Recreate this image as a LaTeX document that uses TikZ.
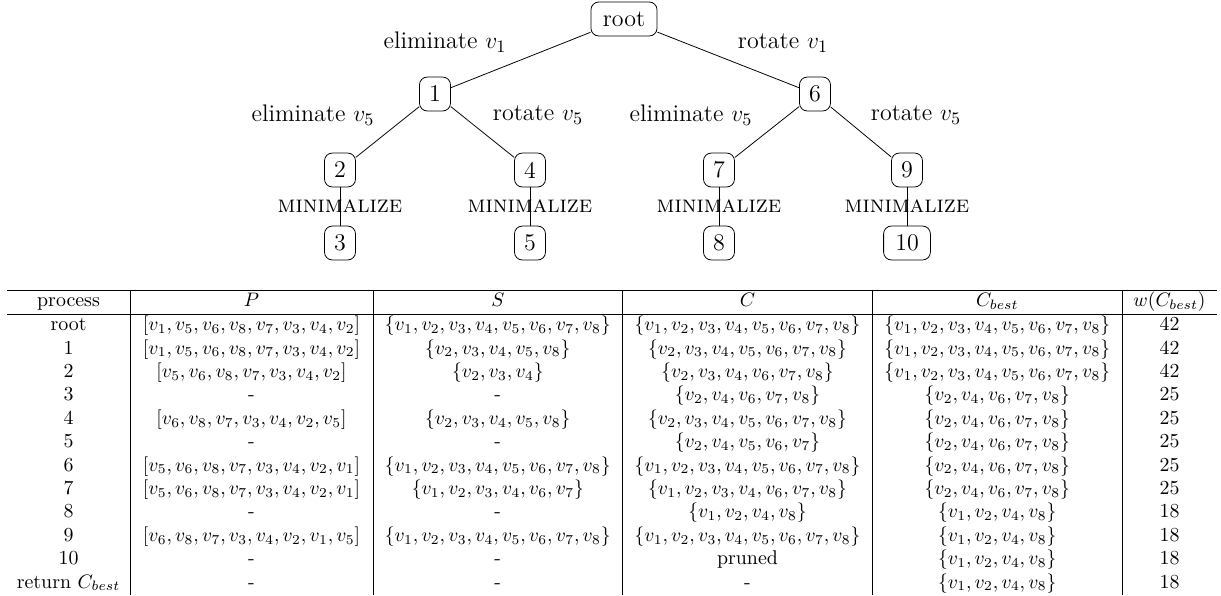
\documentclass[tikz,border=0pt]{standalone}
\tikzset{
  tnode/.style={draw, line width=0.4pt, rounded corners=4pt, font=\fontsize{12.3}{14}\selectfont, minimum height=17.4pt, minimum width=15.9pt, inner sep=2pt},
  lbl/.style={font=\fontsize{12.3}{14}\selectfont, inner sep=0pt},
  mini/.style={font=\fontsize{12.3}{14}\selectfont\scshape, inner sep=0pt},
  cell/.style={anchor=base, inner sep=0pt, font=\fontsize{10.2}{12}\selectfont},
  conn/.style={line width=0.4pt},
  trule/.style={line width=0.4pt}
}
\newcommand\tabrow[8]{%
  \node[cell] (r#1a) at (68.5,#2) {#3};
  \node[cell] (r#1b) at (251.5,#2) {#4};
  \node[cell] (r#1c) at (497.8,#2) {#5};
  \node[cell] (r#1d) at (747.5,#2) {#6};
  \node[cell] (r#1e) at (997.2,#2) {#7};
  \node[cell] (r#1f) at (1169.5,#2) {#8};
}
\newcommand\allv{$\{v_1, v_2, v_3, v_4, v_5, v_6, v_7, v_8\}$}
\begin{document}
\begin{tikzpicture}[x=0.5128pt, y=-0.5128pt]
\useasboundingbox (0,0) rectangle (1221,595);
% tree nodes
\node[tnode, minimum width=33.9pt] (root) at (624,19) {root};
\node[tnode] (n1) at (435,94) {1};
\node[tnode] (n6) at (815,94) {6};
\node[tnode] (n2) at (340,170) {2};
\node[tnode] (n4) at (530,170) {4};
\node[tnode] (n7) at (719,170) {7};
\node[tnode] (n9) at (907,170) {9};
\node[tnode] (n3) at (340,243) {3};
\node[tnode] (n5) at (530,243) {5};
\node[tnode] (n8) at (719,243) {8};
\node[tnode, minimum width=24pt] (n10) at (907,243) {10};
% connectors
\draw[conn] (root) -- (n1);
\draw[conn] (root) -- (n6);
\draw[conn] (n1) -- (n2);
\draw[conn] (n1) -- (n4);
\draw[conn] (n6) -- (n7);
\draw[conn] (n6) -- (n9);
\draw[conn] (n2) -- node[mini] (m3) {minimalize} (n3);
\draw[conn] (n4) -- node[mini] (m5) {minimalize} (n5);
\draw[conn] (n7) -- node[mini] (m8) {minimalize} (n8);
\draw[conn] (n9) -- node[mini] (m10) {minimalize} (n10);
% edge labels
\node[lbl] (l1) at (445,42) {eliminate $v_1$};
\node[lbl] (l6) at (783,43) {rotate $v_1$};
\node[lbl] (l2) at (313,115) {eliminate $v_5$};
\node[lbl] (l4) at (538,115) {rotate $v_5$};
\node[lbl] (l7) at (691,115) {eliminate $v_5$};
\node[lbl] (l9) at (916,115) {rotate $v_5$};
% table rules
\draw[trule] (7,290.4) -- (1217,290.4);
\draw[trule] (7,314.2) -- (1217,314.2);
\foreach \xx in {130,373,622.7,872.3,1122} {
  \draw[trule] (\xx,290.4) -- (\xx,595);
}
% header
\tabrow{h}{306.8}{process}{$P$}{$S$}{$C$}{$C_{best}$}{$w(C_{best})$}
% body
\tabrow{0}{330.6}{root}{$[v_1, v_5, v_6, v_8, v_7, v_3, v_4, v_2]$}{\allv}{\allv}{\allv}{42}
\tabrow{1}{354.0}{1}{$[v_1, v_5, v_6, v_8, v_7, v_3, v_4, v_2]$}{$\{v_2, v_3, v_4, v_5, v_8\}$}{$\{v_2, v_3, v_4, v_5, v_6, v_7, v_8\}$}{\allv}{42}
\tabrow{2}{377.4}{2}{$[v_5, v_6, v_8, v_7, v_3, v_4, v_2]$}{$\{v_2, v_3, v_4\}$}{$\{v_2, v_3, v_4, v_6, v_7, v_8\}$}{\allv}{42}
\tabrow{3}{400.8}{3}{-}{-}{$\{v_2, v_4, v_6, v_7, v_8\}$}{$\{v_2, v_4, v_6, v_7, v_8\}$}{25}
\tabrow{4}{424.2}{4}{$[v_6, v_8, v_7, v_3, v_4, v_2, v_5]$}{$\{v_2, v_3, v_4, v_5, v_8\}$}{$\{v_2, v_3, v_4, v_5, v_6, v_7, v_8\}$}{$\{v_2, v_4, v_6, v_7, v_8\}$}{25}
\tabrow{5}{447.6}{5}{-}{-}{$\{v_2, v_4, v_5, v_6, v_7\}$}{$\{v_2, v_4, v_6, v_7, v_8\}$}{25}
\tabrow{6}{471.0}{6}{$[v_5, v_6, v_8, v_7, v_3, v_4, v_2, v_1]$}{\allv}{\allv}{$\{v_2, v_4, v_6, v_7, v_8\}$}{25}
\tabrow{7}{494.4}{7}{$[v_5, v_6, v_8, v_7, v_3, v_4, v_2, v_1]$}{$\{v_1, v_2, v_3, v_4, v_6, v_7\}$}{$\{v_1, v_2, v_3, v_4, v_6, v_7, v_8\}$}{$\{v_2, v_4, v_6, v_7, v_8\}$}{25}
\tabrow{8}{517.8}{8}{-}{-}{$\{v_1, v_2, v_4, v_8\}$}{$\{v_1, v_2, v_4, v_8\}$}{18}
\tabrow{9}{541.2}{9}{$[v_6, v_8, v_7, v_3, v_4, v_2, v_1, v_5]$}{\allv}{\allv}{$\{v_1, v_2, v_4, v_8\}$}{18}
\tabrow{10}{564.6}{10}{-}{-}{pruned}{$\{v_1, v_2, v_4, v_8\}$}{18}
\tabrow{11}{588.0}{return $C_{best}$}{-}{-}{-}{$\{v_1, v_2, v_4, v_8\}$}{18}
\end{tikzpicture}
\end{document}
